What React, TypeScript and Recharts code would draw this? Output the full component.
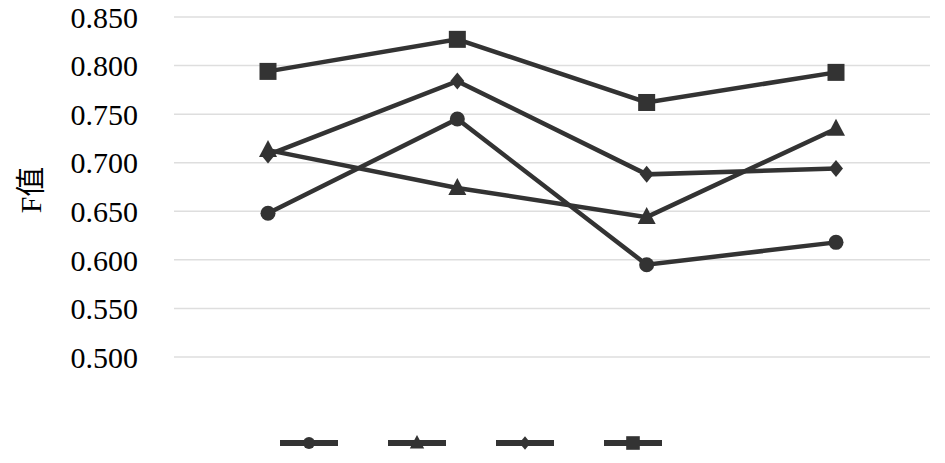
import React from "react";
import { CartesianGrid, Legend, Line, LineChart, XAxis, YAxis } from "recharts";

const CATEGORIES = ["1", "2", "3", "4"];
const CIRCLE_VALUES = [0.648, 0.745, 0.595, 0.618];
const TRIANGLE_VALUES = [0.713, 0.674, 0.644, 0.735];
const DIAMOND_VALUES = [0.708, 0.784, 0.688, 0.694];
const SQUARE_VALUES = [0.794, 0.827, 0.762, 0.793];
const Y_TICKS = [0.5, 0.55, 0.6, 0.65, 0.7, 0.75, 0.8, 0.85];

const INK = "#333333";
const FONT = "'Liberation Serif', 'Times New Roman', 'Noto Sans CJK SC', serif";

type Shape = "circle" | "triangle" | "diamond" | "square";

const SERIES: { key: string; shape: Shape }[] = [
  { key: "circle", shape: "circle" },
  { key: "triangle", shape: "triangle" },
  { key: "diamond", shape: "diamond" },
  { key: "square", shape: "square" },
];

const data = CATEGORIES.map((name, i) => ({
  name,
  circle: CIRCLE_VALUES[i],
  triangle: TRIANGLE_VALUES[i],
  diamond: DIAMOND_VALUES[i],
  square: SQUARE_VALUES[i],
}));

function marker(shape: Shape, cx: number, cy: number, s = 1) {
  switch (shape) {
    case "circle":
      return <circle cx={cx} cy={cy} r={7.5 * s} fill={INK} />;
    case "square":
      return <rect x={cx - 8.5 * s} y={cy - 8.5 * s} width={17 * s} height={17 * s} fill={INK} />;
    case "triangle":
      return (
        <polygon
          points={`${cx},${cy - 10 * s} ${cx + 9 * s},${cy + 7 * s} ${cx - 9 * s},${cy + 7 * s}`}
          fill={INK}
        />
      );
    default:
      return (
        <polygon
          points={`${cx},${cy - 8.5 * s} ${cx + 7 * s},${cy} ${cx},${cy + 8.5 * s} ${cx - 7 * s},${cy}`}
          fill={INK}
        />
      );
  }
}

const dotFor = (shape: Shape) => (props: any) => {
  const { cx, cy, index } = props;
  if (cx == null || cy == null) return <g key={`${shape}-${index}`} />;
  return <g key={`${shape}-${index}`}>{marker(shape, cx, cy)}</g>;
};

function LegendRow() {
  return (
    <div style={{ display: "flex", justifyContent: "center", gap: 50, marginLeft: 12 }}>
      {SERIES.map((s) => (
        <svg key={s.key} width={58} height={20}>
          <line x1={0} y1={10} x2={58} y2={10} stroke={INK} strokeWidth={6} />
          {marker(s.shape, 29, 10, 0.8)}
        </svg>
      ))}
    </div>
  );
}

export default function App() {
  return (
    <div style={{ position: "absolute", left: 0, top: 0, background: "#fff" }}>
      <LineChart width={945} height={463} data={data} margin={{ top: 17, right: 15, bottom: 10, left: 0 }}>
        <CartesianGrid vertical={false} stroke="#dedede" strokeWidth={1.5} />
        <XAxis
          dataKey="name"
          tick={false}
          tickLine={false}
          axisLine={false}
          height={76}
          padding={{ left: 94, right: 94 }}
        />
        <YAxis
          domain={[0.5, 0.85]}
          ticks={Y_TICKS}
          width={174}
          tickLine={false}
          axisLine={false}
          tickSize={0}
          tickMargin={36}
          tickFormatter={(v: number) => v.toFixed(3)}
          tick={{ fill: "#000", fontSize: 30, fontFamily: FONT }}
          label={{
            value: "F值",
            angle: -90,
            position: "insideLeft",
            offset: 30,
            dy: 3,
            style: { textAnchor: "middle", fill: "#000", fontSize: 30, fontFamily: FONT },
          }}
        />
        <Legend verticalAlign="bottom" height={20} content={() => <LegendRow />} />
        {SERIES.map((s) => (
          <Line
            key={s.key}
            type="linear"
            dataKey={s.key}
            stroke={INK}
            strokeWidth={4.5}
            dot={dotFor(s.shape)}
            activeDot={false}
            isAnimationActive={false}
          />
        ))}
      </LineChart>
    </div>
  );
}
